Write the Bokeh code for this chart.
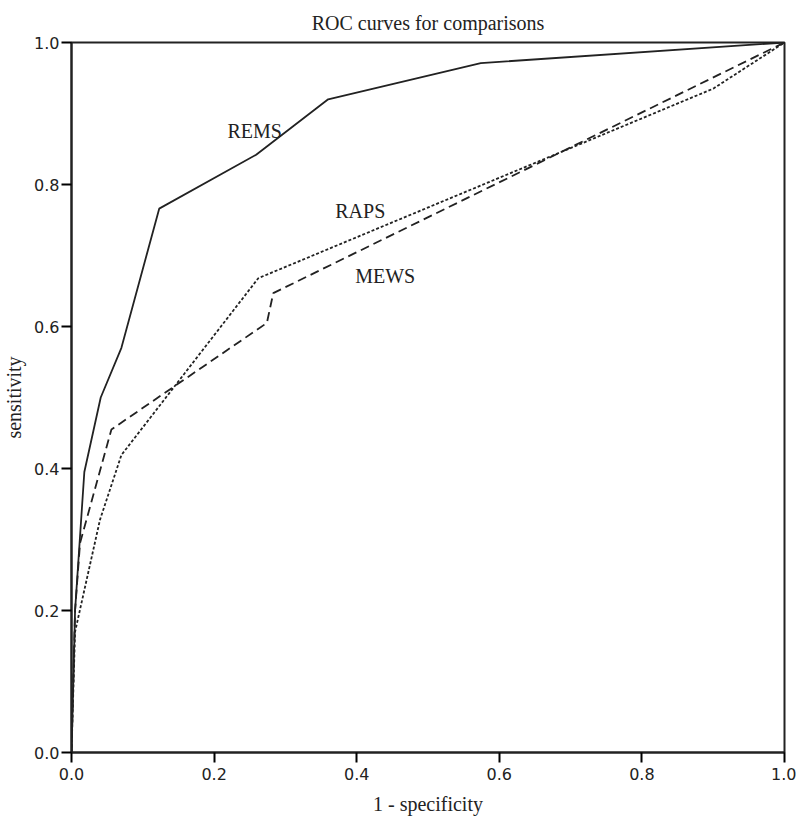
from bokeh.plotting import figure
from bokeh.embed import file_html
from bokeh.resources import INLINE
from bokeh.models import Range1d, PrintfTickFormatter
from bokeh.core.properties import value

# ROC curve data (1 - specificity, sensitivity)
rems_fpr = [0.0, 0.005, 0.018, 0.041, 0.07, 0.123, 0.259, 0.36, 0.574, 1.0]
rems_tpr = [0.0, 0.2, 0.395, 0.5, 0.57, 0.766, 0.842, 0.92, 0.971, 1.0]

raps_fpr = [0.0, 0.005, 0.04, 0.07, 0.262, 0.9, 1.0]
raps_tpr = [0.0, 0.17, 0.328, 0.419, 0.668, 0.935, 1.0]

mews_fpr = [0.0, 0.005, 0.012, 0.056, 0.274, 0.283, 1.0]
mews_tpr = [0.0, 0.2, 0.295, 0.455, 0.605, 0.647, 1.0]

curve_names = ["REMS", "RAPS", "MEWS"]
label_x = [0.257, 0.405, 0.44]
label_y = [0.876, 0.762, 0.671]

ticks = [0.0, 0.2, 0.4, 0.6, 0.8, 1.0]

INK = "#222222"
SERIF = "Liberation Serif"

p = figure(output_backend="svg", toolbar_location=None,
           x_range=Range1d(0, 1), y_range=Range1d(0, 1),
           frame_width=713, frame_height=710,
           min_border_left=67, min_border_right=12, min_border_top=35, min_border_bottom=69,
           title="ROC curves for comparisons")

p.title.align = "center"
p.title.text_font = SERIF
p.title.text_font_size = "20px"
p.title.text_font_style = "normal"
p.title.text_color = INK
p.title.standoff = 18

p.grid.visible = False
p.outline_line_color = INK
p.outline_line_width = 2
p.background_fill_color = "white"
p.border_fill_color = "white"

p.xaxis.ticker = ticks
p.yaxis.ticker = ticks
p.axis.formatter = PrintfTickFormatter(format="%.1f")
p.axis.minor_tick_line_color = None
p.axis.major_tick_in = 0
p.axis.major_tick_out = 10
p.axis.major_tick_line_color = "black"
p.axis.major_tick_line_width = 2
p.axis.axis_line_width = 2
p.axis.axis_line_color = INK
p.axis.major_label_text_font = "DejaVu Sans"
p.axis.major_label_text_font_size = "16px"
p.axis.major_label_text_color = INK
p.axis.axis_label_text_font = SERIF
p.axis.axis_label_text_font_size = "20px"
p.axis.axis_label_text_font_style = "normal"
p.axis.axis_label_text_color = INK

p.xaxis.axis_label = "1 - specificity"
p.yaxis.axis_label = "sensitivity"
p.xaxis.major_label_standoff = 5
p.yaxis.major_label_standoff = 2
p.xaxis.axis_label_standoff = 10
p.yaxis.axis_label_standoff = 6

p.line(rems_fpr, rems_tpr, line_color=INK, line_width=1.8)
p.line(raps_fpr, raps_tpr, line_color=INK, line_width=1.8, line_dash="3 2")
p.line(mews_fpr, mews_tpr, line_color=INK, line_width=1.8, line_dash="9 5")

p.text(x=label_x, y=label_y, text=curve_names, text_font=value(SERIF),
       text_font_size="20px", text_color=INK, text_align="center",
       text_baseline="middle")

open("out.html", "w").write(file_html(p, INLINE))
